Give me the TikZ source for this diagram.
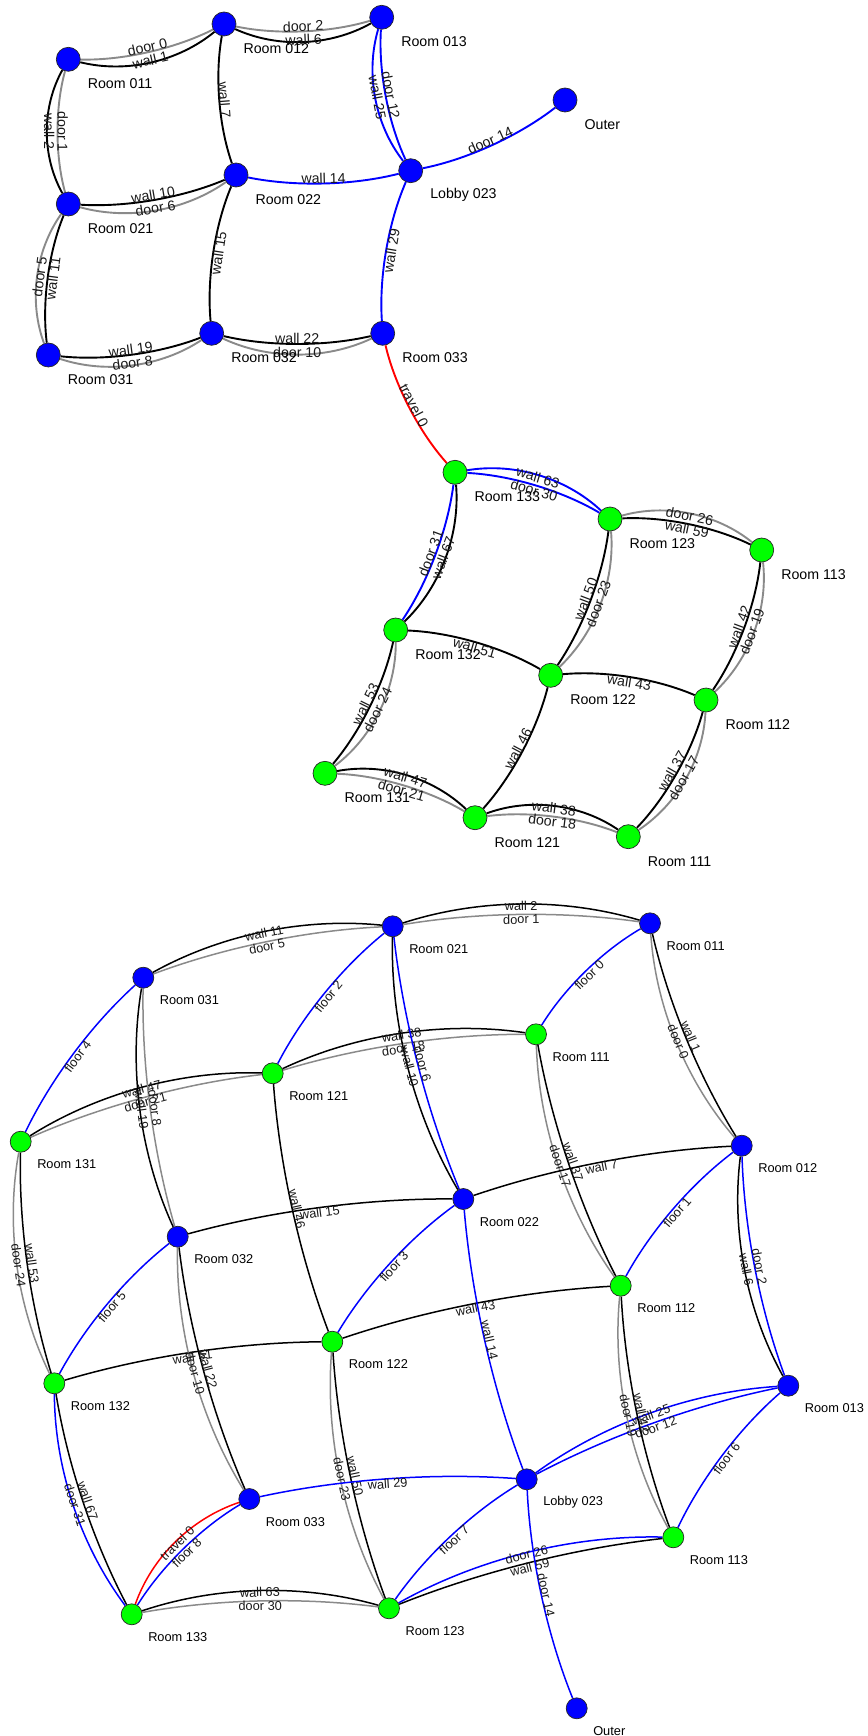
\documentclass[tikz,border=0pt]{standalone}
\usepackage{fontspec}
\setmainfont{Liberation Sans}
\usetikzlibrary{calc, backgrounds}

\definecolor{roomblue}{RGB}{0,0,255}
\definecolor{roomgreen}{RGB}{0,255,0}
\definecolor{doorgray}{RGB}{138,138,138}
\definecolor{travelred}{RGB}{255,0,0}

\tikzset{
  rm/.style={circle, draw=black!85, line width=0.7pt, inner sep=0pt, minimum size=24pt},
  bluerm/.style={rm, fill=roomblue},
  greenrm/.style={rm, fill=roomgreen},
  rmlab/.style={inner sep=0pt, xshift=7pt, yshift=-24.5pt, font=\fontsize{14.2}{16}\selectfont},
  named/.style={label={[rmlab]0:#1}},
  elab/.style={sloped, midway, inner sep=0pt, text=black!90, font=\fontsize{14.2}{16}\selectfont},
  wall/.style={draw=black},
  door/.style={draw=doorgray},
  link/.style={draw=roomblue},
  travel/.style={draw=travelred},
  bow/.style={to path={.. controls ($(\tikztostart)!0.3333!(\tikztotarget)!#1!90:(\tikztotarget)$) and ($(\tikztotarget)!0.3333!(\tikztostart)!#1!-90:(\tikztostart)$) .. (\tikztotarget)}},
  tag/.style={draw=none, nodes={elab}, to path={($(\tikztostart)!#1!90:(\tikztotarget)$) -- ($(\tikztotarget)!#1!-90:(\tikztostart)$) \tikztonodes}},
  L0/.style={bow=13.3pt}, L1/.style={bow=26.7pt},
  R0/.style={bow=-13.3pt}, R1/.style={bow=-26.7pt},
  tL0/.style={tag=5.5pt}, tL1/.style={tag=19pt},
  tR0/.style={tag=-5.5pt}, tR1/.style={tag=-19pt}
}

\begin{document}
\begin{tikzpicture}[x=1pt, y=-1pt]
\useasboundingbox (0,0) rectangle (867,1736);

% upper graph: floor 0 rooms
\node[bluerm, named={Room 011}] (a011) at (68.3,59.3) {};
\node[bluerm, named={Room 012}] (a012) at (224,24) {};
\node[bluerm, named={Room 013}] (a013) at (381.7,17.3) {};
\node[bluerm, named={Room 021}] (a021) at (68.3,204) {};
\node[bluerm, named={Room 022}] (a022) at (236,175) {};
\node[bluerm, named={Lobby 023}] (alob) at (410.7,170.7) {};
\node[bluerm, named={Room 031}] (a031) at (48.3,355) {};
\node[bluerm, named={Room 032}] (a032) at (211.7,333.3) {};
\node[bluerm, named={Room 033}] (a033) at (382.7,333.3) {};
\node[bluerm, named=Outer] (aout) at (565,100) {};
% upper graph: floor 1 rooms
\node[greenrm, named={Room 133}] (a133) at (455,472.3) {};
\node[greenrm, named={Room 123}] (a123) at (610,519) {};
\node[greenrm, named={Room 113}] (a113) at (761.7,550) {};
\node[greenrm, named={Room 132}] (a132) at (395.7,630) {};
\node[greenrm, named={Room 122}] (a122) at (550.7,675.3) {};
\node[greenrm, named={Room 112}] (a112) at (706,700) {};
\node[greenrm, named={Room 131}] (a131) at (325,773.3) {};
\node[greenrm, named={Room 121}] (a121) at (475,817.7) {};
\node[greenrm, named={Room 111}] (a111) at (628.3,836.7) {};

\begin{scope}[on background layer, every edge/.append style={line width=1.9pt}]
\path (a011) edge[door, R0] (a012) edge[tR0] node{door 0} (a012);
\path (a011) edge[wall, R1] (a012) edge[tR1] node{wall 1} (a012);
\path (a012) edge[door, R0] (a013) edge[tR0] node{door 2} (a013);
\path (a012) edge[wall, R1] (a013) edge[tR1] node{wall 6} (a013);
\path (a011) edge[door, R0] (a021) edge[tR0] node{door 1} (a021);
\path (a011) edge[wall, R1] (a021) edge[tR1] node{wall 2} (a021);
\path (a012) edge[wall, R0] (a022) edge[tR0] node{wall 7} (a022);
\path (a013) edge[link, R0] (alob) edge[tR0] node{door 12} (alob);
\path (a013) edge[link, R1] (alob) edge[tR1] node{wall 25} (alob);
\path (alob) edge[link, R0] (aout) edge[tR0] node{door 14} (aout);
\path (a021) edge[wall, R0] (a022) edge[tR0] node{wall 10} (a022);
\path (a021) edge[door, R1] (a022) edge[tR1] node{door 6} (a022);
\path (a022) edge[link, R0] (alob) edge[tR0] node{wall 14} (alob);
\path (a021) edge[wall, R0] (a031) edge[tR0] node{wall 11} (a031);
\path (a021) edge[door, R1] (a031) edge[tR1] node{door 5} (a031);
\path (a022) edge[wall, R0] (a032) edge[tR0] node{wall 15} (a032);
\path (alob) edge[link, R0] (a033) edge[tR0] node{wall 29} (a033);
\path (a031) edge[wall, R0] (a032) edge[tR0] node{wall 19} (a032);
\path (a031) edge[door, R1] (a032) edge[tR1] node{door 8} (a032);
\path (a032) edge[wall, R0] (a033) edge[tR0] node{wall 22} (a033);
\path (a032) edge[door, R1] (a033) edge[tR1] node{door 10} (a033);
\path (a033) edge[travel, R0] (a133) edge[tR0] node{travel 0} (a133);
% floor 1
\path (a133) edge[link, L0] (a123) edge[tL0] node{door 30} (a123);
\path (a133) edge[link, L1] (a123) edge[tL1] node{wall 63} (a123);
\path (a123) edge[wall, L0] (a113) edge[tL0] node{wall 59} (a113);
\path (a123) edge[door, L1] (a113) edge[tL1] node{door 26} (a113);
\path (a133) edge[link, L0] (a132) edge[tL0] node{door 31} (a132);
\path (a133) edge[wall, L1] (a132) edge[tL1] node{wall 67} (a132);
\path (a123) edge[wall, L0] (a122) edge[tL0] node{wall 50} (a122);
\path (a123) edge[door, L1] (a122) edge[tL1] node{door 23} (a122);
\path (a113) edge[wall, L0] (a112) edge[tL0] node{wall 42} (a112);
\path (a113) edge[door, L1] (a112) edge[tL1] node{door 19} (a112);
\path (a132) edge[wall, L0] (a122) edge[tL0] node{wall 51} (a122);
\path (a122) edge[wall, L0] (a112) edge[tL0] node{wall 43} (a112);
\path (a132) edge[wall, L0] (a131) edge[tL0] node{wall 53} (a131);
\path (a132) edge[door, L1] (a131) edge[tL1] node{door 24} (a131);
\path (a122) edge[wall, L0] (a121) edge[tL0] node{wall 46} (a121);
\path (a112) edge[wall, L0] (a111) edge[tL0] node{wall 37} (a111);
\path (a112) edge[door, L1] (a111) edge[tL1] node{door 17} (a111);
\path (a131) edge[door, L0] (a121) edge[tL0] node{door 21} (a121);
\path (a131) edge[wall, L1] (a121) edge[tL1] node{wall 47} (a121);
\path (a121) edge[door, L0] (a111) edge[tL0] node{door 18} (a111);
\path (a121) edge[wall, L1] (a111) edge[tL1] node{wall 38} (a111);
\end{scope}

% lower graph: both floors together
\begin{scope}[rm/.append style={minimum size=21pt},
  rmlab/.style={inner sep=0pt, xshift=5.5pt, yshift=-22.6pt, font=\fontsize{12.8}{15}\selectfont},
  elab/.append style={font=\fontsize{12.8}{15}\selectfont}]
\node[bluerm, named={Room 011}] (b011) at (650,923.3) {};
\node[bluerm, named={Room 012}] (b012) at (741.7,1145.7) {};
\node[bluerm, named={Room 013}] (b013) at (788.3,1385.7) {};
\node[bluerm, named={Room 021}] (b021) at (392.7,926.3) {};
\node[bluerm, named={Room 022}] (b022) at (463.3,1199) {};
\node[bluerm, named={Lobby 023}] (blob) at (526.7,1479.3) {};
\node[bluerm, named={Room 031}] (b031) at (143.3,977.7) {};
\node[bluerm, named={Room 032}] (b032) at (177.7,1236.7) {};
\node[bluerm, named={Room 033}] (b033) at (249.3,1499) {};
\node[bluerm, named=Outer] (bout) at (576.7,1708.3) {};
\node[greenrm, named={Room 111}] (b111) at (536,1034.3) {};
\node[greenrm, named={Room 112}] (b112) at (620.7,1285.7) {};
\node[greenrm, named={Room 113}] (b113) at (673.3,1537.3) {};
\node[greenrm, named={Room 121}] (b121) at (272.7,1073.3) {};
\node[greenrm, named={Room 122}] (b122) at (332.3,1341.7) {};
\node[greenrm, named={Room 123}] (b123) at (389,1608.3) {};
\node[greenrm, named={Room 131}] (b131) at (20.7,1141.7) {};
\node[greenrm, named={Room 132}] (b132) at (54.3,1383.3) {};
\node[greenrm, named={Room 133}] (b133) at (131.7,1614.3) {};

\begin{scope}[on background layer, every edge/.append style={line width=1.5pt}]
\path (b021) edge[door, L0] (b011) edge[tL0] node{door 1} (b011);
\path (b021) edge[wall, L1] (b011) edge[tL1] node{wall 2} (b011);
\path (b031) edge[door, L0] (b021) edge[tL0] node{door 5} (b021);
\path (b031) edge[wall, L1] (b021) edge[tL1] node{wall 11} (b021);
\path (b031) edge[link, R0] (b131) edge[tR0] node{floor 4} (b131);
\path (b021) edge[link, R0] (b121) edge[tR0] node{floor 2} (b121);
\path (b011) edge[link, R0] (b111) edge[tR0] node{floor 0} (b111);
\path (b011) edge[wall, R0] (b012) edge[tR0] node{wall 1} (b012);
\path (b011) edge[door, R1] (b012) edge[tR1] node{door 0} (b012);
\path (b131) edge[door, L0] (b121) edge[tL0] node{door 21} (b121);
\path (b131) edge[wall, L1] (b121) edge[tL1] node{wall 47} (b121);
\path (b121) edge[door, L0] (b111) edge[tL0] node{door 18} (b111);
\path (b121) edge[wall, L1] (b111) edge[tL1] node{wall 38} (b111);
\path (b021) edge[link, R0] (b022) edge[tR0] node{door 6} (b022);
\path (b021) edge[wall, R1] (b022) edge[tR1] node{wall 10} (b022);
\path (b031) edge[door, R0] (b032) edge[tR0] node{door 8} (b032);
\path (b031) edge[wall, R1] (b032) edge[tR1] node{wall 19} (b032);
\path (b131) edge[wall, R0] (b132) edge[tR0] node{wall 53} (b132);
\path (b131) edge[door, R1] (b132) edge[tR1] node{door 24} (b132);
\path (b121) edge[wall, R0] (b122) edge[tR0] node{wall 46} (b122);
\path (b032) edge[wall, L0] (b022) edge[tL0] node{wall 15} (b022);
\path (b111) edge[wall, R0] (b112) edge[tR0] node{wall 37} (b112);
\path (b111) edge[door, R1] (b112) edge[tR1] node{door 17} (b112);
\path (b022) edge[wall, L0] (b012) edge[tL0] node{wall 7} (b012);
\path (b112) edge[link, L0] (b012) edge[tL0] node{floor 1} (b012);
\path (b012) edge[link, R0] (b013) edge[tR0] node{door 2} (b013);
\path (b012) edge[wall, R1] (b013) edge[tR1] node{wall 6} (b013);
\path (b032) edge[link, R0] (b132) edge[tR0] node{floor 5} (b132);
\path (b022) edge[link, R0] (b122) edge[tR0] node{floor 3} (b122);
\path (b122) edge[wall, L0] (b112) edge[tL0] node{wall 43} (b112);
\path (b022) edge[link, R0] (blob) edge[tR0] node{wall 14} (blob);
\path (b132) edge[wall, L0] (b122) edge[tL0] node{wall 51} (b122);
\path (b032) edge[wall, R0] (b033) edge[tR0] node{wall 22} (b033);
\path (b032) edge[door, R1] (b033) edge[tR1] node{door 10} (b033);
\path (b122) edge[wall, R0] (b123) edge[tR0] node{wall 50} (b123);
\path (b122) edge[door, R1] (b123) edge[tR1] node{door 23} (b123);
\path (b132) edge[wall, R0] (b133) edge[tR0] node{wall 67} (b133);
\path (b132) edge[link, R1] (b133) edge[tR1] node{door 31} (b133);
\path (b033) edge[link, R0] (b133) edge[tR0] node{floor 8} (b133);
\path (b033) edge[travel, R1] (b133) edge[tR1] node{travel 0} (b133);
\path (b033) edge[link, L0] (blob) edge[tL0] node{wall 29} (blob);
\path (b133) edge[door, L0] (b123) edge[tL0] node{door 30} (b123);
\path (b133) edge[wall, L1] (b123) edge[tL1] node{wall 63} (b123);
\path (b123) edge[link, L0] (blob) edge[tL0] node{floor 7} (blob);
\path (b123) edge[wall, L0] (b113) edge[tL0] node{wall 59} (b113);
\path (b123) edge[link, L1] (b113) edge[tL1] node{door 26} (b113);
\path (blob) edge[link, L0] (b013) edge[tL0] node{door 12} (b013);
\path (blob) edge[link, L1] (b013) edge[tL1] node{wall 25} (b013);
\path (b112) edge[wall, R0] (b113) edge[tR0] node{wall 42} (b113);
\path (b112) edge[door, R1] (b113) edge[tR1] node{door 19} (b113);
\path (b013) edge[link, R0] (b113) edge[tR0] node{floor 6} (b113);
\path (blob) edge[link, R0] (bout) edge[tR0] node{door 14} (bout);
\end{scope}
\end{scope}
\end{tikzpicture}
\end{document}
